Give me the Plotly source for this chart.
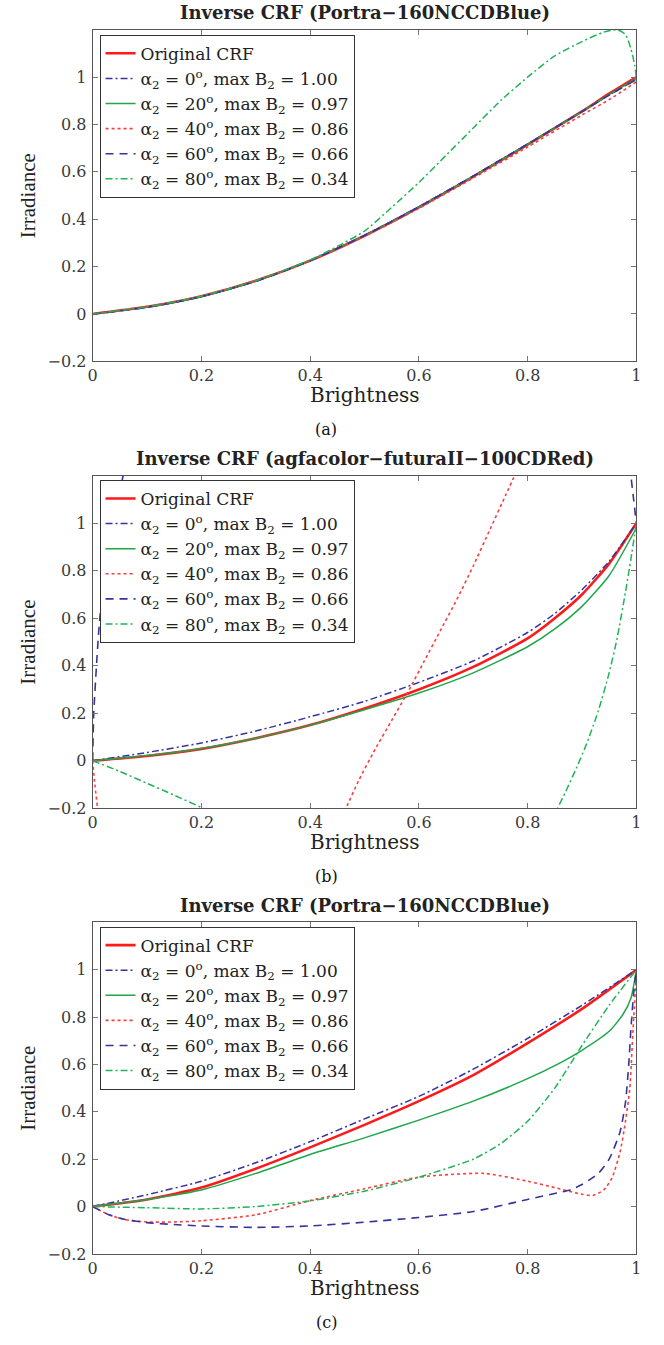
import plotly.graph_objects as go

# ---------------- data ----------------
TITLES = ["Inverse CRF (Portra\u2212160NCCDBlue)",
          "Inverse CRF (agfacolor\u2212futuraII\u2212100CDRed)",
          "Inverse CRF (Portra\u2212160NCCDBlue)"]
CAPTIONS = ["(a)", "(b)", "(c)"]
SERIES_NAMES = [
    "Original CRF",
    "\u03b1<sub>2</sub> = 0<sup>o</sup>, max B<sub>2</sub> = 1.00",
    "\u03b1<sub>2</sub> = 20<sup>o</sup>, max B<sub>2</sub> = 0.97",
    "\u03b1<sub>2</sub> = 40<sup>o</sup>, max B<sub>2</sub> = 0.86",
    "\u03b1<sub>2</sub> = 60<sup>o</sup>, max B<sub>2</sub> = 0.66",
    "\u03b1<sub>2</sub> = 80<sup>o</sup>, max B<sub>2</sub> = 0.34",
]
X_TICKS = [0, 0.2, 0.4, 0.6, 0.8, 1]
X_TICK_LABELS = ["0", "0.2", "0.4", "0.6", "0.8", "1"]
Y_TICKS = [-0.2, 0, 0.2, 0.4, 0.6, 0.8, 1]
Y_TICK_LABELS = ["\u22120.2", "0", "0.2", "0.4", "0.6", "0.8", "1"]

# panel (a)
a_x = [0, 0.1, 0.2, 0.3, 0.4, 0.5, 0.6, 0.7, 0.8, 0.9, 0.95, 1.0]
a_orig = [0, 0.03, 0.075, 0.14, 0.225, 0.33, 0.45, 0.58, 0.715, 0.855, 0.93, 1.0]
a_0 = [0, 0.028, 0.073, 0.138, 0.225, 0.332, 0.453, 0.583, 0.718, 0.855, 0.925, 0.99]
a_20 = [0, 0.029, 0.074, 0.139, 0.226, 0.331, 0.451, 0.581, 0.716, 0.854, 0.926, 0.995]
a_40 = [0, 0.03, 0.075, 0.14, 0.224, 0.328, 0.446, 0.574, 0.705, 0.84, 0.905, 0.98]
a_60 = [0, 0.028, 0.073, 0.138, 0.225, 0.331, 0.452, 0.582, 0.717, 0.854, 0.924, 0.99]
a80_x = [0, 0.1, 0.2, 0.3, 0.4, 0.45, 0.5, 0.55, 0.6, 0.65, 0.7, 0.75, 0.8, 0.85,
         0.9, 0.94, 0.965, 0.98, 0.99, 0.997, 1.0]
a80_y = [0, 0.03, 0.075, 0.14, 0.228, 0.285, 0.35, 0.45, 0.555, 0.67, 0.785, 0.9,
         1.0, 1.09, 1.15, 1.19, 1.2, 1.18, 1.12, 1.05, 1.0]

# panel (b)
b_x = [0, 0.1, 0.2, 0.3, 0.4, 0.5, 0.6, 0.7, 0.8, 0.85, 0.9, 0.95, 1.0]
b_orig = [0, 0.02, 0.05, 0.095, 0.15, 0.22, 0.3, 0.395, 0.515, 0.6, 0.7, 0.83, 1.0]
b_0 = [0, 0.035, 0.075, 0.125, 0.185, 0.25, 0.33, 0.42, 0.54, 0.62, 0.72, 0.84, 1.0]
b_20 = [0, 0.022, 0.052, 0.095, 0.15, 0.215, 0.285, 0.37, 0.48, 0.555, 0.65, 0.78, 0.98]
b40_x = [0, 0.004, 0.009, 0.013, None, 0.455, 0.466, 0.49, 0.52, 0.55, 0.58, 0.61,
         0.64, 0.67, 0.70, 0.73, 0.76, 0.79]
b40_y = [0, -0.1, -0.2, -0.3, None, -0.26, -0.2, -0.08, 0.05, 0.17, 0.29, 0.42,
         0.55, 0.68, 0.82, 0.97, 1.12, 1.27]
b60_x = [0, 0.002, 0.007, 0.012, 0.02, 0.03, 0.042, 0.056, 0.062, None,
         0.986, 0.99, 0.995, 1.0]
b60_y = [0, 0.2, 0.4, 0.57, 0.75, 0.9, 1.05, 1.2, 1.27, None,
         1.3, 1.2, 1.1, 1.0]
b80_x = [0, 0.05, 0.1, 0.15, 0.2, 0.21, None, 0.845, 0.855, 0.87, 0.89, 0.91,
         0.93, 0.95, 0.965, 0.98, 0.99, 1.0]
b80_y = [0, -0.045, -0.095, -0.145, -0.197, -0.21, None, -0.24, -0.2, -0.13, -0.03,
         0.08, 0.21, 0.37, 0.52, 0.71, 0.85, 1.0]

# panel (c)
c_x = [0, 0.1, 0.2, 0.3, 0.4, 0.5, 0.6, 0.7, 0.8, 0.9, 1.0]
c_orig = [0, 0.03, 0.08, 0.16, 0.25, 0.345, 0.445, 0.555, 0.69, 0.835, 1.0]
c_0 = [0, 0.05, 0.107, 0.185, 0.274, 0.37, 0.465, 0.58, 0.71, 0.85, 1.0]
c20_x = [0, 0.1, 0.2, 0.3, 0.4, 0.5, 0.6, 0.7, 0.8, 0.85, 0.9, 0.95, 0.975, 0.99, 1.0]
c20_y = [0, 0.03, 0.07, 0.14, 0.22, 0.29, 0.365, 0.445, 0.54, 0.595, 0.66, 0.74,
         0.81, 0.88, 1.0]
c40_x = [0, 0.03, 0.06, 0.1, 0.15, 0.2, 0.3, 0.4, 0.5, 0.6, 0.72, 0.8, 0.85, 0.9,
         0.92, 0.94, 0.955, 0.97, 0.98, 0.988, 0.994, 1.0]
c40_y = [0, -0.035, -0.055, -0.065, -0.065, -0.06, -0.035, 0.025, 0.075, 0.124,
         0.14, 0.107, 0.08, 0.052, 0.047, 0.07, 0.12, 0.23, 0.36, 0.5, 0.75, 0.98]
c60_x = [0, 0.03, 0.06, 0.1, 0.15, 0.2, 0.3, 0.4, 0.5, 0.6, 0.7, 0.8, 0.88, 0.9,
         0.93, 0.95, 0.97, 0.98, 0.986, 0.99, 0.995, 1.0]
c60_y = [0, -0.035, -0.055, -0.068, -0.076, -0.082, -0.088, -0.082, -0.066, -0.046,
         -0.021, 0.03, 0.072, 0.093, 0.14, 0.2, 0.315, 0.44, 0.6, 0.75, 0.9, 1.0]
c80_x = [0, 0.1, 0.2, 0.3, 0.4, 0.5, 0.6, 0.7, 0.75, 0.8, 0.85, 0.9, 0.95, 1.0]
c80_y = [0, -0.005, -0.01, 0.0, 0.024, 0.065, 0.124, 0.2, 0.265, 0.36, 0.5,
         0.68, 0.85, 1.0]

PANELS = [
    [(a_x, a_orig), (a_x, a_0), (a_x, a_20), (a_x, a_40), (a_x, a_60), (a80_x, a80_y)],
    [(b_x, b_orig), (b_x, b_0), (b_x, b_20), (b40_x, b40_y), (b60_x, b60_y), (b80_x, b80_y)],
    [(c_x, c_orig), (c_x, c_0), (c20_x, c20_y), (c40_x, c40_y), (c60_x, c60_y), (c80_x, c80_y)],
]

# ---------------- styles ----------------
W, H = 664, 1345
FONT = "DejaVu Serif, Liberation Serif, serif"
FONT_T = "Liberation Serif, Times New Roman, serif"
COLORS = ["#FF1A1A", "#34349C", "#1DA64A", "#FF3B3B", "#34349C", "#22B257"]
DASHES = ["solid", "7px,3px,2px,3px", "solid", "3px,3px", "8px,6px", "7px,3px,2px,3px"]
WIDTHS = [2.6, 1.5, 1.5, 1.6, 1.6, 1.5]

PLOT_L, PLOT_R = 89, 641
PANEL_TOP = [30, 479.3, 929.3]
PANEL_BOT = [364, 814.3, 1263.3]
LEGEND_TOP = [35, 483.5, 933.5]


def py(px):
    return 1 - px / H


fig = go.Figure()
annotations = []
layout = dict(
    width=W, height=H,
    margin=dict(l=0, r=0, t=0, b=0),
    paper_bgcolor="white", plot_bgcolor="white",
    showlegend=True,
    font=dict(family=FONT, color="#222"),
)

for p in range(3):
    xa = "x" if p == 0 else f"x{p + 1}"
    ya = "y" if p == 0 else f"y{p + 1}"
    lg = "legend" if p == 0 else f"legend{p + 1}"
    for s, (xs, ys) in enumerate(PANELS[p]):
        fig.add_trace(go.Scatter(
            x=xs, y=ys, mode="lines", name=SERIES_NAMES[s],
            line=dict(color=COLORS[s], width=WIDTHS[s], dash=DASHES[s],
                      shape="spline", smoothing=0.6),
            xaxis=xa, yaxis=ya, legend=lg, connectgaps=False,
        ))
    axkey = "xaxis" if p == 0 else f"xaxis{p + 1}"
    aykey = "yaxis" if p == 0 else f"yaxis{p + 1}"
    common = dict(showline=True, linecolor="#555", linewidth=1, mirror="ticks",
                  ticks="inside", ticklen=5, tickcolor="#777", tickwidth=1,
                  showgrid=False, zeroline=False,
                  tickfont=dict(family=FONT, size=16, color="#3a3a3a"))
    layout[axkey] = dict(common, domain=[PLOT_L / W, PLOT_R / W], range=[0, 1],
                         tickvals=X_TICKS, ticktext=X_TICK_LABELS,
                         anchor=ya, ticklabelstandoff=0)
    layout[aykey] = dict(common, domain=[py(PANEL_BOT[p]), py(PANEL_TOP[p])],
                         range=[-0.2, 1.2], tickvals=Y_TICKS, ticktext=Y_TICK_LABELS,
                         anchor=xa, ticklabelstandoff=2)
    layout[lg] = dict(x=96 / W, y=py(LEGEND_TOP[p]), xanchor="left", yanchor="top",
                      bgcolor="white", bordercolor="#333", borderwidth=1,
                      font=dict(family=FONT, size=17, color="#222"),
                      itemwidth=30, tracegroupgap=0)
    cx = (PLOT_L + PLOT_R) / 2 / W
    annotations.append(dict(text=f"<b>{TITLES[p]}</b>", x=cx, y=py(PANEL_TOP[p] - 17.5),
                            xref="paper", yref="paper", showarrow=False,
                            xanchor="center", yanchor="middle",
                            font=dict(family=FONT, size=18, color="#222")))
    annotations.append(dict(text="Brightness", x=cx, y=py(PANEL_BOT[p] + 34),
                            xref="paper", yref="paper", showarrow=False,
                            xanchor="center", yanchor="middle",
                            font=dict(family=FONT, size=20, color="#222")))
    annotations.append(dict(text="Irradiance", x=23 / W,
                            y=py((PANEL_TOP[p] + PANEL_BOT[p]) / 2),
                            xref="paper", yref="paper", showarrow=False, textangle=-90,
                            xanchor="center", yanchor="middle",
                            font=dict(family=FONT_T, size=21, color="#222")))
    annotations.append(dict(text=CAPTIONS[p], x=326 / W, y=py(PANEL_BOT[p] + 69),
                            xref="paper", yref="paper", showarrow=False,
                            xanchor="center", yanchor="middle",
                            font=dict(family=FONT, size=16, color="#111")))

layout["annotations"] = annotations
fig.update_layout(**layout)
fig.write_html("out.html")
